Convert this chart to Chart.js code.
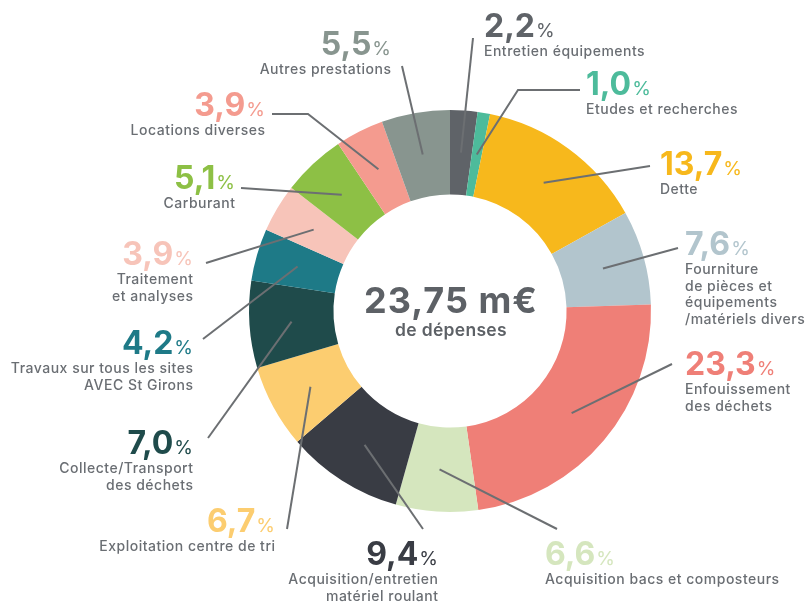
<!DOCTYPE html>
<html lang="fr">
<head>
<meta charset="utf-8">
<title>Répartition des dépenses</title>
<script src="https://cdn.jsdelivr.net/npm/chart.js@4.4.1/dist/chart.umd.min.js"></script>
<style>
  html, body { margin: 0; padding: 0; background: #fff; }
  #wrap { width: 806px; height: 602px; }
</style>
</head>
<body>
<div id="wrap"><canvas id="depenses" width="806" height="602"></canvas></div>
<script>
// Dépenses par poste, en % du total
const categories = [
    'Entretien équipements',
    'Etudes et recherches',
    'Dette',
    'Fourniture\nde pièces et\néquipements\n/matériels divers',
    'Enfouissement\ndes déchets',
    'Acquisition bacs et composteurs',
    'Acquisition/entretien\nmatériel roulant',
    'Exploitation centre de tri',
    'Collecte/Transport\ndes déchets',
    'Travaux sur tous les sites\nAVEC St Girons',
    'Traitement\net analyses',
    'Carburant',
    'Locations diverses',
    'Autres prestations',
];
const values = [2.2, 1.0, 13.7, 7.6, 23.3, 6.6, 9.4, 6.7, 7.0, 4.2, 3.9, 5.1, 3.9, 5.5];
const totalAmount = '23,75 m€';
const totalCaption = 'de dépenses';

const colors = [
    '#5f6368', '#4dbb9b', '#f7b81c', '#b2c5cd', '#ef7f77', '#d5e6be', '#393c44',
    '#fccd70', '#1f4b4b', '#1e7a87', '#f7c4b9', '#8dc045', '#f49b8f', '#88958f',
];

// where each callout text sits, and the outer end (plus optional elbow) of its leader line
const labelLayout = [
    { x: 484, y: 37, align: 'left', line: [[473, 38]] },
    { x: 586, y: 95, align: 'left', line: [[580, 90], [518, 90]] },
    { x: 660, y: 175, align: 'left', line: [[650, 166]] },
    { x: 685, y: 255, align: 'left', line: [[678, 248]] },
    { x: 685, y: 375, align: 'left', line: [[672, 364]] },
    { x: 545, y: 565, align: 'left', line: [[557, 529]] },
    { x: 438, y: 565, align: 'right', line: [[423, 529]] },
    { x: 275, y: 532, align: 'right', line: [[287, 529]] },
    { x: 193, y: 454, align: 'right', line: [[208, 438]] },
    { x: 193, y: 354, align: 'right', line: [[203, 339]] },
    { x: 193, y: 265, align: 'right', line: [[206, 263]] },
    { x: 235, y: 189, align: 'right', line: [[241, 188]] },
    { x: 265, y: 116, align: 'right', line: [[272, 114], [308, 114]] },
    { x: 391, y: 55, align: 'right', line: [[402, 66]] },
];

const FONT = 'Inter, "Noto Sans", sans-serif';
const TEXT_GREY = '#6a6e73';
const LINE_GREY = '#6c6f72';
const CAPTION_SPACING = 0.5;

const fmt = (v) => v.toFixed(1).replace('.', ',');

const calloutPlugin = {
    id: 'callouts',
    afterDraw(chart) {
        const ctx = chart.ctx;
        const arcs = chart.getDatasetMeta(0).data;
        ctx.save();

        arcs.forEach((arc, i) => {
            const p = arc.getProps(['x', 'y', 'startAngle', 'endAngle', 'innerRadius', 'outerRadius'], true);
            const mid = (p.startAngle + p.endAngle) / 2;
            const r = (p.innerRadius + p.outerRadius) / 2;
            const lay = labelLayout[i];

            // leader line from the slice out to the text
            ctx.beginPath();
            ctx.moveTo(p.x + Math.cos(mid) * r, p.y + Math.sin(mid) * r);
            lay.line.slice().reverse().forEach(([lx, ly]) => ctx.lineTo(lx, ly));
            ctx.strokeStyle = LINE_GREY;
            ctx.lineWidth = 2;
            ctx.stroke();

            // big percentage + small % sign
            const num = fmt(values[i]);
            ctx.textBaseline = 'alphabetic';
            ctx.textAlign = 'left';
            ctx.letterSpacing = '0px';
            ctx.font = `700 32px ${FONT}`;
            const wNum = ctx.measureText(num).width;
            ctx.font = `400 19px ${FONT}`;
            const wPct = ctx.measureText('%').width;
            const x0 = lay.align === 'left' ? lay.x : lay.x - wNum - wPct - 1;
            ctx.fillStyle = colors[i];
            ctx.font = `700 32px ${FONT}`;
            ctx.fillText(num, x0, lay.y);
            ctx.font = `400 19px ${FONT}`;
            ctx.fillText('%', x0 + wNum + 1, lay.y);

            // caption lines (trailing letter spacing compensated on right-aligned text)
            ctx.font = `500 14px ${FONT}`;
            ctx.letterSpacing = CAPTION_SPACING + 'px';
            ctx.fillStyle = TEXT_GREY;
            ctx.textAlign = lay.align;
            const cx = lay.align === 'right' ? lay.x + CAPTION_SPACING : lay.x;
            categories[i].split('\n').forEach((txt, k) => {
                ctx.fillText(txt, cx, lay.y + 19 + k * 16.5);
            });
        });

        // total in the hole
        const c = arcs[0].getProps(['x', 'y'], true);
        ctx.textAlign = 'center';
        ctx.fillStyle = '#5d6166';
        ctx.letterSpacing = '1px';
        ctx.font = `700 36px ${FONT}`;
        ctx.fillText(totalAmount, c.x + 1, 313);
        ctx.letterSpacing = '0.3px';
        ctx.font = `600 17.5px ${FONT}`;
        ctx.fillText(totalCaption, c.x + 1, 336);
        ctx.restore();
    },
};

new Chart(document.getElementById('depenses'), {
    type: 'doughnut',
    data: {
        labels: categories,
        datasets: [
            {
                data: values,
                backgroundColor: colors,
                borderWidth: 0,
                hoverBorderWidth: 0,
                hoverOffset: 0,
            },
        ],
    },
    options: {
        responsive: false,
        animation: false,
        cutout: '58%',
        layout: {
            padding: { left: 249, right: 155, top: 110, bottom: 90 },
        },
        plugins: {
            legend: { display: false },
            tooltip: { enabled: false },
        },
        events: [],
    },
    plugins: [calloutPlugin],
});
</script>
</body>
</html>
